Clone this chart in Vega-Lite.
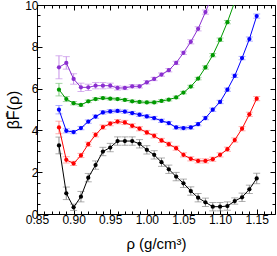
{
  "$schema": "https://vega.github.io/schema/vega-lite/v6.json",
  "autosize": "none",
  "width": 238,
  "height": 209,
  "padding": {"left": 37, "top": 5, "right": 2, "bottom": 42},
  "background": "white",
  "config": {
    "view": {"stroke": "black", "strokeWidth": 1},
    "axis": {"domain": false, "grid": false, "labelFlush": false, "tickColor": "black", "labelColor": "black", "titleColor": "black", "labelFont": "Liberation Sans", "titleFont": "Liberation Sans", "labelFontSize": 12, "titleFontWeight": "normal", "titleFontSize": 15}
  },
  "data": {"values": [
    {"s":"a","x":0.88,"y":3.28,"e":0.4},{"s":"a","x":0.89,"y":0.99,"e":0.3},{"s":"a","x":0.90,"y":0.32,"e":0.15},{"s":"a","x":0.91,"y":0.83,"e":0.25},{"s":"a","x":0.92,"y":1.74,"e":0.2},{"s":"a","x":0.93,"y":2.34,"e":0.2},{"s":"a","x":0.94,"y":2.99,"e":0.2},{"s":"a","x":0.95,"y":3.18,"e":0.2},{"s":"a","x":0.96,"y":3.49,"e":0.2},{"s":"a","x":0.97,"y":3.49,"e":0.2},{"s":"a","x":0.98,"y":3.49,"e":0.2},{"s":"a","x":0.99,"y":3.36,"e":0.2},{"s":"a","x":1.00,"y":3.07,"e":0.2},{"s":"a","x":1.01,"y":2.83,"e":0.2},{"s":"a","x":1.02,"y":2.48,"e":0.2},{"s":"a","x":1.03,"y":2.14,"e":0.2},{"s":"a","x":1.04,"y":1.79,"e":0.2},{"s":"a","x":1.05,"y":1.47,"e":0.2},{"s":"a","x":1.06,"y":1.10,"e":0.2},{"s":"a","x":1.07,"y":0.78,"e":0.2},{"s":"a","x":1.08,"y":0.56,"e":0.2},{"s":"a","x":1.09,"y":0.35,"e":0.2},{"s":"a","x":1.10,"y":0.35,"e":0.2},{"s":"a","x":1.11,"y":0.38,"e":0.2},{"s":"a","x":1.12,"y":0.62,"e":0.15},{"s":"a","x":1.13,"y":0.80,"e":0.2},{"s":"a","x":1.14,"y":1.18,"e":0.2},{"s":"a","x":1.15,"y":1.70,"e":0.25},
    {"s":"b","x":0.88,"y":4.14,"e":0.3},{"s":"b","x":0.89,"y":2.59,"e":0.15},{"s":"b","x":0.90,"y":2.42,"e":0.1},{"s":"b","x":0.91,"y":2.80,"e":0.1},{"s":"b","x":0.92,"y":3.34,"e":0.1},{"s":"b","x":0.93,"y":3.79,"e":0.1},{"s":"b","x":0.94,"y":4.16,"e":0.1},{"s":"b","x":0.95,"y":4.32,"e":0.1},{"s":"b","x":0.96,"y":4.42,"e":0.1},{"s":"b","x":0.97,"y":4.38,"e":0.1},{"s":"b","x":0.98,"y":4.22,"e":0.1},{"s":"b","x":0.99,"y":4.08,"e":0.1},{"s":"b","x":1.00,"y":3.90,"e":0.1},{"s":"b","x":1.01,"y":3.74,"e":0.1},{"s":"b","x":1.02,"y":3.52,"e":0.1},{"s":"b","x":1.03,"y":3.34,"e":0.1},{"s":"b","x":1.04,"y":3.15,"e":0.1},{"s":"b","x":1.05,"y":2.83,"e":0.1},{"s":"b","x":1.06,"y":2.64,"e":0.1},{"s":"b","x":1.07,"y":2.54,"e":0.1},{"s":"b","x":1.08,"y":2.54,"e":0.1},{"s":"b","x":1.09,"y":2.62,"e":0.1},{"s":"b","x":1.10,"y":2.83,"e":0.1},{"s":"b","x":1.11,"y":3.10,"e":0.1},{"s":"b","x":1.12,"y":3.54,"e":0.1},{"s":"b","x":1.13,"y":4.08,"e":0.1},{"s":"b","x":1.14,"y":4.77,"e":0.1},{"s":"b","x":1.15,"y":5.52,"e":0.1},
    {"s":"c","x":0.88,"y":4.99,"e":0.2},{"s":"c","x":0.89,"y":3.98,"e":0.1},{"s":"c","x":0.90,"y":3.92,"e":0.08},{"s":"c","x":0.91,"y":4.11,"e":0.08},{"s":"c","x":0.92,"y":4.42,"e":0.08},{"s":"c","x":0.93,"y":4.66,"e":0.08},{"s":"c","x":0.94,"y":4.86,"e":0.08},{"s":"c","x":0.95,"y":4.91,"e":0.08},{"s":"c","x":0.96,"y":4.93,"e":0.08},{"s":"c","x":0.97,"y":4.90,"e":0.08},{"s":"c","x":0.98,"y":4.83,"e":0.08},{"s":"c","x":0.99,"y":4.75,"e":0.08},{"s":"c","x":1.00,"y":4.67,"e":0.08},{"s":"c","x":1.01,"y":4.59,"e":0.08},{"s":"c","x":1.02,"y":4.46,"e":0.08},{"s":"c","x":1.03,"y":4.35,"e":0.08},{"s":"c","x":1.04,"y":4.14,"e":0.08},{"s":"c","x":1.05,"y":4.11,"e":0.08},{"s":"c","x":1.06,"y":4.14,"e":0.08},{"s":"c","x":1.07,"y":4.30,"e":0.08},{"s":"c","x":1.08,"y":4.59,"e":0.08},{"s":"c","x":1.09,"y":4.99,"e":0.08},{"s":"c","x":1.10,"y":5.36,"e":0.08},{"s":"c","x":1.11,"y":5.95,"e":0.08},{"s":"c","x":1.12,"y":6.61,"e":0.08},{"s":"c","x":1.13,"y":7.46,"e":0.08},{"s":"c","x":1.14,"y":8.37,"e":0.1},{"s":"c","x":1.15,"y":9.47,"e":0.1},
    {"s":"d","x":0.88,"y":5.95,"e":0.3},{"s":"d","x":0.89,"y":5.50,"e":0.12},{"s":"d","x":0.90,"y":5.30,"e":0.08},{"s":"d","x":0.91,"y":5.22,"e":0.06},{"s":"d","x":0.92,"y":5.39,"e":0.06},{"s":"d","x":0.93,"y":5.50,"e":0.06},{"s":"d","x":0.94,"y":5.55,"e":0.06},{"s":"d","x":0.95,"y":5.52,"e":0.06},{"s":"d","x":0.96,"y":5.50,"e":0.06},{"s":"d","x":0.97,"y":5.46,"e":0.06},{"s":"d","x":0.98,"y":5.39,"e":0.06},{"s":"d","x":0.99,"y":5.36,"e":0.06},{"s":"d","x":1.00,"y":5.34,"e":0.06},{"s":"d","x":1.01,"y":5.34,"e":0.06},{"s":"d","x":1.02,"y":5.41,"e":0.06},{"s":"d","x":1.03,"y":5.47,"e":0.06},{"s":"d","x":1.04,"y":5.58,"e":0.06},{"s":"d","x":1.05,"y":5.81,"e":0.06},{"s":"d","x":1.06,"y":6.10,"e":0.06},{"s":"d","x":1.07,"y":6.48,"e":0.06},{"s":"d","x":1.08,"y":7.01,"e":0.08},{"s":"d","x":1.09,"y":7.60,"e":0.08},{"s":"d","x":1.10,"y":8.34,"e":0.08},{"s":"d","x":1.11,"y":9.18,"e":0.08},{"s":"d","x":1.12,"y":10.15,"e":0.08},
    {"s":"e","x":0.88,"y":7.02,"e":0.55},{"s":"e","x":0.89,"y":7.23,"e":0.3},{"s":"e","x":0.90,"y":6.46,"e":0.25},{"s":"e","x":0.91,"y":6.06,"e":0.2},{"s":"e","x":0.92,"y":6.06,"e":0.15},{"s":"e","x":0.93,"y":6.14,"e":0.15},{"s":"e","x":0.94,"y":6.14,"e":0.15},{"s":"e","x":0.95,"y":6.14,"e":0.12},{"s":"e","x":0.96,"y":6.03,"e":0.1},{"s":"e","x":0.97,"y":6.03,"e":0.08},{"s":"e","x":0.98,"y":6.11,"e":0.08},{"s":"e","x":0.99,"y":6.11,"e":0.08},{"s":"e","x":1.00,"y":6.30,"e":0.08},{"s":"e","x":1.01,"y":6.46,"e":0.08},{"s":"e","x":1.02,"y":6.67,"e":0.08},{"s":"e","x":1.03,"y":6.88,"e":0.08},{"s":"e","x":1.04,"y":7.23,"e":0.08},{"s":"e","x":1.05,"y":7.71,"e":0.08},{"s":"e","x":1.06,"y":8.24,"e":0.1},{"s":"e","x":1.07,"y":8.86,"e":0.1},{"s":"e","x":1.08,"y":9.66,"e":0.1},{"s":"e","x":1.09,"y":10.5,"e":0.1}
  ]},
  "resolve": {"axis": {"x": "independent", "y": "independent"}, "scale": {"color": "independent"}},
  "layer": [
    {
      "mark": {"type": "errorbar", "ticks": {"size": 7, "thickness": 1}, "thickness": 1, "clip": true},
      "encoding": {
        "x": {"field": "x", "type": "quantitative", "scale": {"domain": [0.85, 1.175], "nice": false, "zero": false},
          "axis": {"orient": "top", "values": [0.85, 0.9, 0.95, 1.0, 1.05, 1.1, 1.15], "labels": false, "tickSize": -5, "title": null}},
        "y": {"field": "y", "type": "quantitative", "scale": {"domain": [0, 10], "nice": false},
          "axis": {"orient": "right", "values": [0, 2, 4, 6, 8, 10], "labels": false, "tickSize": -5, "title": null}},
        "yError": {"field": "e"},
        "color": {"field": "s", "type": "nominal", "legend": null, "scale": {"domain": ["a","b","c","d","e"], "range": ["#8c8c8c", "#ff8a8a", "#8a8aff", "#80c480", "#c690e8"]}}
      }
    },
    {
      "mark": {"type": "line", "strokeWidth": 1, "clip": true},
      "encoding": {
        "x": {"field": "x", "type": "quantitative", "scale": {"domain": [0.85, 1.175], "nice": false, "zero": false},
          "axis": {"orient": "bottom", "values": [0.85, 0.9, 0.95, 1.0, 1.05, 1.1, 1.15], "format": ".2f", "tickSize": -5, "labelPadding": 5, "title": "ρ (g/cm³)", "titlePadding": 11}},
        "y": {"field": "y", "type": "quantitative", "scale": {"domain": [0, 10], "nice": false},
          "axis": {"orient": "left", "values": [0, 2, 4, 6, 8, 10], "tickSize": -5, "labelPadding": 4, "title": "βF̄(ρ)", "titleFontSize": 16, "titleAngle": 270, "titlePadding": 3}},
        "color": {"field": "s", "type": "nominal", "legend": null, "scale": {"domain": ["a","b","c","d","e"], "range": ["#000000", "#ff0000", "#0000ff", "#009a00", "#8a2ed0"]}},
        "detail": {"field": "s"}
      }
    },
    {
      "mark": {"type": "point", "shape": "circle", "filled": true, "size": 18, "opacity": 1, "clip": true},
      "encoding": {
        "x": {"field": "x", "type": "quantitative", "scale": {"domain": [0.85, 1.175], "nice": false, "zero": false},
          "axis": {"orient": "bottom", "values": [0.86,0.87,0.88,0.89,0.91,0.92,0.93,0.94,0.96,0.97,0.98,0.99,1.01,1.02,1.03,1.04,1.06,1.07,1.08,1.09,1.11,1.12,1.13,1.14,1.16,1.17], "labels": false, "tickSize": -3, "title": null}},
        "y": {"field": "y", "type": "quantitative", "scale": {"domain": [0, 10], "nice": false},
          "axis": {"orient": "left", "values": [0.5,1,1.5,2.5,3,3.5,4.5,5,5.5,6.5,7,7.5,8.5,9,9.5], "labels": false, "tickSize": -3, "title": null}},
        "color": {"field": "s", "type": "nominal", "legend": null, "scale": {"domain": ["a","b","c","d","e"], "range": ["#000000", "#ff0000", "#0000ff", "#009a00", "#8a2ed0"]}}
      }
    },
    {
      "mark": {"type": "point", "shape": "circle", "filled": true, "size": 18, "opacity": 0, "clip": true},
      "encoding": {
        "x": {"field": "x", "type": "quantitative", "scale": {"domain": [0.85, 1.175], "nice": false, "zero": false},
          "axis": {"orient": "top", "values": [0.86,0.87,0.88,0.89,0.91,0.92,0.93,0.94,0.96,0.97,0.98,0.99,1.01,1.02,1.03,1.04,1.06,1.07,1.08,1.09,1.11,1.12,1.13,1.14,1.16,1.17], "labels": false, "tickSize": -3, "title": null}},
        "y": {"field": "y", "type": "quantitative", "scale": {"domain": [0, 10], "nice": false},
          "axis": {"orient": "right", "values": [0.5,1,1.5,2.5,3,3.5,4.5,5,5.5,6.5,7,7.5,8.5,9,9.5], "labels": false, "tickSize": -3, "title": null}}
      }
    }
  ]
}
